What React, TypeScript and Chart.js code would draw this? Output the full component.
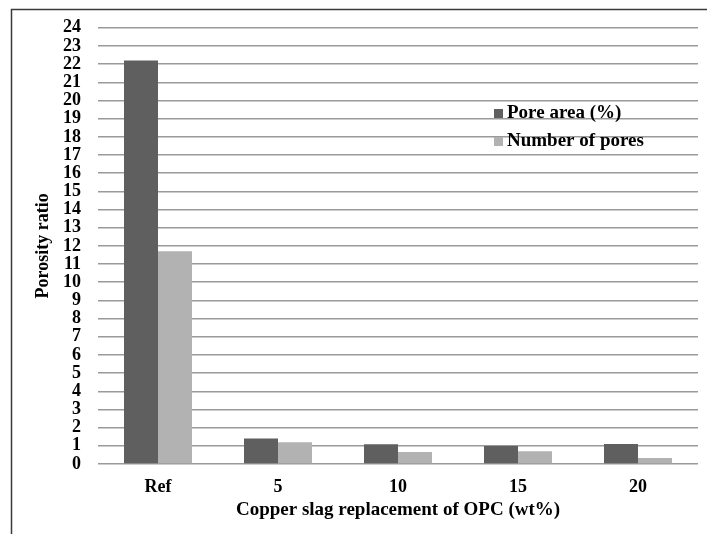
import React, { useEffect, useRef } from "react";
import { Chart, registerables } from "chart.js";

Chart.register(...registerables);

const categories = ["Ref", "5", "10", "15", "20"];
const poreArea = [22.2, 1.4, 1.08, 0.99, 1.1];
const numberOfPores = [11.7, 1.19, 0.66, 0.7, 0.33];
const seriesLabels = ["Pore area (%)", "Number of pores"];
const seriesColors = ["#5f5f5f", "#b2b2b2"];
const yTitle = "Porosity ratio";
const xTitle = "Copper slag replacement of OPC (wt%)";

const FONT = "'Liberation Serif', 'Times New Roman', serif";

const framePlugin = {
  id: "frame",
  afterDraw(chart: any) {
    const ctx = chart.ctx;
    ctx.save();
    ctx.strokeStyle = "#3a3a3a";
    ctx.lineWidth = 1.5;
    ctx.beginPath();
    ctx.moveTo(11.5, chart.height);
    ctx.lineTo(11.5, 9.5);
    ctx.lineTo(chart.width, 9.5);
    ctx.stroke();
    ctx.restore();
  },
};

const legendPlugin = {
  id: "insideLegend",
  afterDraw(chart: any) {
    const ctx = chart.ctx;
    ctx.save();
    ctx.font = `bold 19px ${FONT}`;
    ctx.textBaseline = "middle";
    ctx.textAlign = "left";
    const x0 = 494;
    const y0 = 113;
    const gap = 28;
    chart.data.datasets.forEach((ds: any, i: number) => {
      const y = y0 + i * gap;
      ctx.fillStyle = ds.backgroundColor;
      ctx.fillRect(x0, y - 4, 9, 9);
      ctx.fillStyle = "#000";
      ctx.fillText(ds.label, x0 + 13, y);
    });
    ctx.restore();
  },
};

export default function App() {
  const ref = useRef<HTMLCanvasElement | null>(null);
  useEffect(() => {
    if (!ref.current) return;
    const chart = new Chart(ref.current, {
      type: "bar",
      data: {
        labels: categories,
        datasets: [
          {
            label: seriesLabels[0],
            data: poreArea,
            backgroundColor: seriesColors[0],
            categoryPercentage: 68 / 120,
            barPercentage: 1,
          },
          {
            label: seriesLabels[1],
            data: numberOfPores,
            backgroundColor: seriesColors[1],
            categoryPercentage: 68 / 120,
            barPercentage: 1,
          },
        ],
      },
      options: {
        animation: false,
        responsive: true,
        maintainAspectRatio: false,
        layout: { padding: { top: 26, right: 9, bottom: 12.6, left: 0 } },
        plugins: {
          legend: { display: false },
          tooltip: { enabled: false },
        },
        scales: {
          x: {
            grid: { display: false },
            border: { display: false },
            ticks: {
              color: "#000",
              padding: 5,
              font: { family: FONT, size: 18, weight: "bold" },
            },
            title: {
              display: true,
              text: xTitle,
              color: "#000",
              padding: { top: 0, bottom: 0 },
              font: { family: FONT, size: 19, weight: "bold" },
            },
            afterFit(scale: any) {
              scale.height = 57.4;
            },
          },
          y: {
            min: 0,
            max: 24,
            grid: { color: "#9a9a9a", lineWidth: 1.5, drawTicks: false },
            border: { display: false },
            ticks: {
              stepSize: 1,
              autoSkip: false,
              color: "#000",
              padding: 17,
              font: { family: FONT, size: 18, weight: "bold" },
            },
            title: {
              display: true,
              text: yTitle,
              color: "#000",
              padding: { top: 33, bottom: 0 },
              font: { family: FONT, size: 18, weight: "bold" },
            },
            afterFit(scale: any) {
              scale.width = 98;
            },
          },
        },
      },
      plugins: [framePlugin, legendPlugin],
    });
    return () => chart.destroy();
  }, []);
  return (
    <div
      style={{
        position: "fixed",
        left: 0,
        top: 0,
        width: 707,
        height: 534,
        background: "#fff",
      }}
    >
      <canvas ref={ref} />
    </div>
  );
}
